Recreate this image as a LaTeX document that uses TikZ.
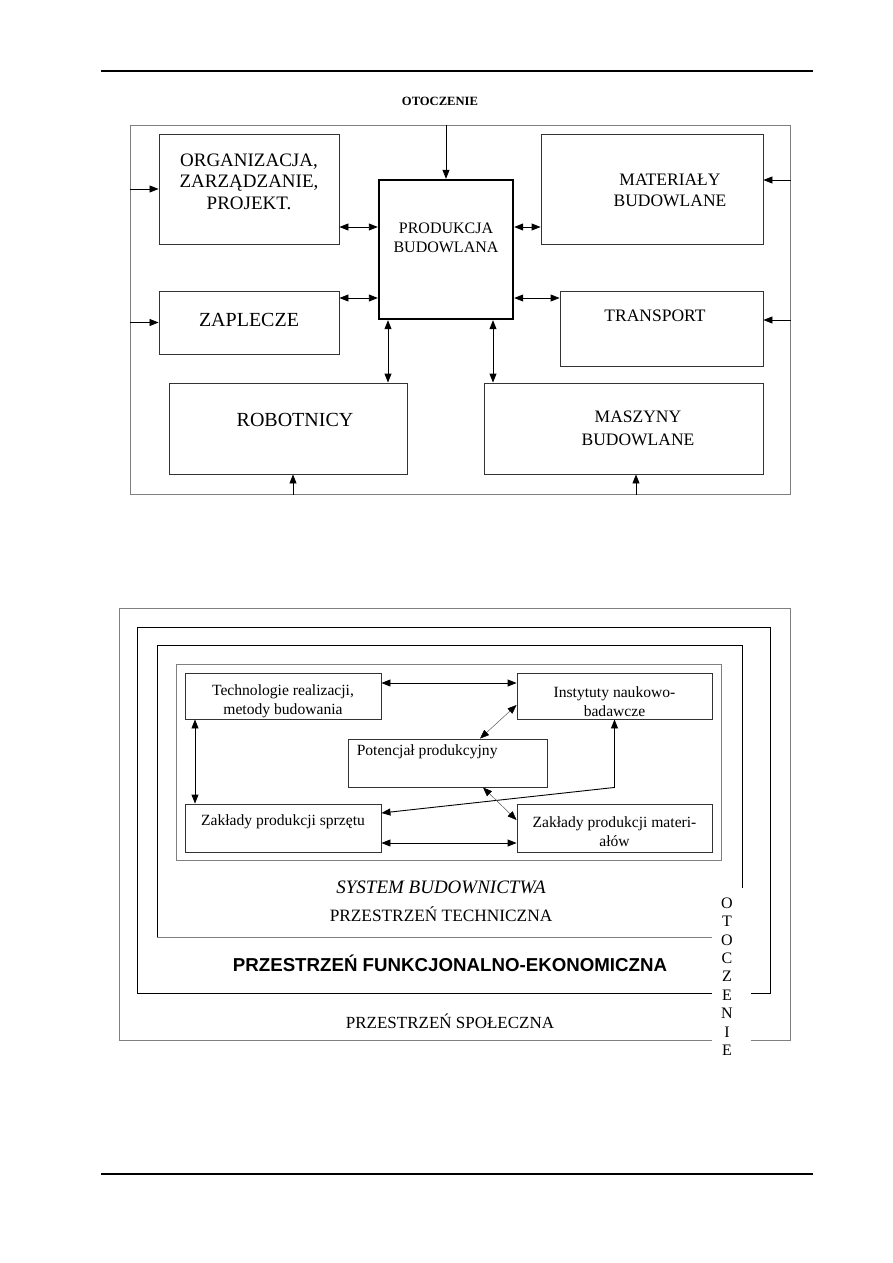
\documentclass[tikz,border=0pt]{standalone}
\usepackage{fontspec}
\setmainfont{Liberation Serif}
\newfontfamily\headsans{Liberation Sans}
\usetikzlibrary{arrows.meta,calc,positioning}
\definecolor{ink}{HTML}{000000}
\definecolor{frameg}{HTML}{7F7F7F}
\tikzset{
  box/.style={draw=ink!80,line width=.9pt,inner sep=0pt},
  hub/.style={box,draw=ink,line width=2.4pt},
  rimline/.style={draw=frameg,line width=1pt},
  wall/.style={draw=ink,line width=1pt},
  feed/.style={-{Triangle[length=9pt,width=7pt]},line width=.8pt,draw=ink},
  swap/.style={{Triangle[length=9pt,width=7pt]}-{Triangle[length=9pt,width=7pt]},line width=.9pt,draw=ink},
  faint/.style={{Triangle[length=9pt,width=7pt,color=ink]}-{Triangle[length=9pt,width=7pt,color=ink]},draw=ink!65,line width=.5pt},
  capbig/.style={align=center,inner sep=0pt,font=\fontsize{19}{21.5}\selectfont},
  capmid/.style={align=center,inner sep=0pt,font=\fontsize{17.5}{21}\selectfont},
  capsmall/.style={align=center,inner sep=0pt,font=\fontsize{15.6}{19}\selectfont}
}
\begin{document}
\begin{tikzpicture}[x=1pt,y=-1pt]
\useasboundingbox (0,0) rectangle (893,1263);
\draw[line width=1.3pt] (101,71) -- (813,71);
\draw[line width=1.3pt] (101,1174) -- (813,1174);

% first diagram
\node[font=\fontsize{12.6}{14}\selectfont\bfseries] (otoczh) at (440,101) {OTOCZENIE};
\node[rimline,minimum width=660,minimum height=369] (env) at (460,309.5) {};
\node[box,minimum width=180,minimum height=110] (org) at (249,189) {};
\node[capbig,yshift=7.5pt] (orgtxt) at (org) {ORGANIZACJA,\\ZARZĄDZANIE,\\PROJEKT.};
\node[hub,minimum width=134,minimum height=139] (prod) at (446,249.5) {};
\node[capsmall,font=\fontsize{16}{19}\selectfont,yshift=12pt] (prodtxt) at (prod) {PRODUKCJA\\BUDOWLANA};
\node[box,minimum width=222,minimum height=110] (mat) at (652,189) {};
\node[capmid,xshift=18pt,yshift=-1.5pt] (mattxt) at (mat) {MATERIAŁY\\BUDOWLANE};
\node[box,minimum width=180,minimum height=63] (zap) at (249,322.5) {};
\node[capbig,font=\fontsize{20}{22}\selectfont,yshift=3pt] (zaptxt) at (zap) {ZAPLECZE};
\node[box,minimum width=203,minimum height=75] (trans) at (661.5,328.5) {};
\node[capmid,xshift=-6.5pt,yshift=12.5pt] (transtxt) at (trans) {TRANSPORT};
\node[box,minimum width=238,minimum height=91] (rob) at (288,428.5) {};
\node[capbig,font=\fontsize{20}{22}\selectfont,xshift=7pt,yshift=8.5pt] (robtxt) at (rob) {ROBOTNICY};
\node[box,minimum width=279,minimum height=91] (masz) at (623.5,428.5) {};
\node[capmid,font=\fontsize{17.5}{23}\selectfont,xshift=14.5pt] (masztxt) at (masz) {MASZYNY\\BUDOWLANE};

\coordinate (upport) at ([yshift=-38pt]org.east);
\coordinate (lowport) at ([yshift=24.5pt]zap.east);
\coordinate (matport) at ([yshift=9pt]mat.east);
\coordinate (transport) at ([yshift=8.5pt]trans.east);
\coordinate (robport) at ([xshift=-58pt]prod.south);
\coordinate (maszport) at ([xshift=47pt]prod.south);
\coordinate (robin) at ([xshift=5pt]rob.south);
\coordinate (maszin) at ([xshift=12.5pt]masz.south);

\draw[feed] (prod.north |- env.north) -- (prod.north);
\draw[feed] (org.west -| env.west) -- (org.west);
\draw[feed] (zap.west -| env.west) -- (zap.west);
\draw[feed] (matport -| env.east) -- (matport);
\draw[feed] (transport -| env.east) -- (transport);
\draw[feed] (robin |- env.south) -- (robin);
\draw[feed] (maszin |- env.south) -- (maszin);
\draw[swap] (upport) -- (upport -| prod.west);
\draw[swap] (lowport) -- (lowport -| prod.west);
\draw[swap] (upport -| prod.east) -- (upport -| mat.west);
\draw[swap] (lowport -| prod.east) -- (lowport -| trans.west);
\draw[swap] (robport) -- (robport |- rob.north);
\draw[swap] (maszport) -- (maszport |- masz.north);

% second diagram
\draw[rimline] (712,1040) -- (119,1040) -- (119,608) -- (790,608) -- (790,1040) -- (751,1040);
\draw[wall] (712,993) -- (137,993) -- (137,627) -- (770,627) -- (770,993) -- (751,993);
\draw[wall] (742,888) -- (742,645) -- (157,645) -- (157,937);
\draw[rimline] (157,937) -- (712,937);
\draw[rimline] (176,664) rectangle (721,860);

\node[box,minimum width=196,minimum height=46] (tech) at (283,696) {};
\node[capsmall,yshift=-5.5pt] (techtxt) at (tech) {Technologie realizacji,\\metody budowania};
\node[box,minimum width=195,minimum height=46] (inst) at (614.5,696) {};
\node[capsmall,yshift=-5.5pt] (insttxt) at (inst) {Instytuty naukowo-\\badawcze};
\node[box,minimum width=199,minimum height=48] (pot) at (447.5,763) {};
\node[capsmall,anchor=west] (pottxt) at ([xshift=9pt,yshift=-13pt]pot.north west) {Potencjał produkcyjny};
\node[box,minimum width=196,minimum height=48] (spr) at (283,828) {};
\node[capsmall,yshift=6pt] (sprtxt) at (spr) {Zakłady produkcji sprzętu};
\node[box,minimum width=195,minimum height=48] (zmat) at (614.5,828) {};
\node[capsmall,yshift=-3.5pt] (zmattxt) at (zmat) {Zakłady produkcji materi-\\ałów};

\coordinate (techport) at ([yshift=13pt]tech.east);
\coordinate (sprport) at ([yshift=-15pt]spr.east);
\coordinate (leftport) at ([xshift=-88pt]tech.south);
\draw[swap] (techport) -- (techport -| inst.west);
\draw[swap] (sprport) -- (sprport -| zmat.west);
\draw[swap] (leftport) -- (leftport |- spr.north);
\draw[swap] (inst.south) -- (inst.south |- pot.south) -- ([yshift=15pt]spr.east);
\draw[faint] ([yshift=-9pt]inst.west) -- ([xshift=32.5pt]pot.north);
\draw[faint] ([xshift=35.5pt]pot.south) -- ([yshift=8pt]zmat.west);

\node[font=\fontsize{19}{21}\selectfont\itshape] (systxt) at (441,887) {SYSTEM BUDOWNICTWA};
\node[font=\fontsize{17.3}{20}\selectfont] (techspace) at (441,914) {PRZESTRZEŃ TECHNICZNA};
\node[font=\headsans\fontsize{18.7}{21}\selectfont\bfseries] (funspace) at (450,963) {PRZESTRZEŃ FUNKCJONALNO-EKONOMICZNA};
\node[font=\fontsize{17}{20}\selectfont] (socspace) at (450,1021) {PRZESTRZEŃ SPOŁECZNA};
\node[align=center,inner sep=0pt,font=\fontsize{16}{18.4}\selectfont] (otoczv) at (727,976.5) {O\\T\\O\\C\\Z\\E\\N\\I\\E};
\end{tikzpicture}
\end{document}
